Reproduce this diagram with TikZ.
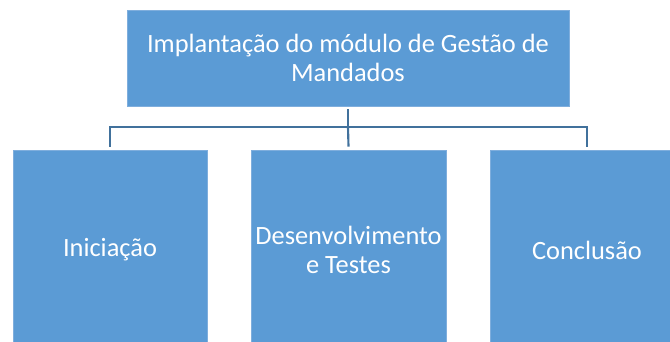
\documentclass[tikz,border=0pt]{standalone}
\usepackage{fontspec}
\setmainfont{Carlito}
\definecolor{boxfill}{HTML}{5B9BD5}
\definecolor{boxline}{HTML}{7FAEDD}
\definecolor{connline}{HTML}{41719C}
\begin{document}
\begin{tikzpicture}[x=0.75pt,y=-0.75pt,
  box/.style={draw=boxline,line width=0.6pt,fill=boxfill,text=white,align=center,
    inner sep=0pt,font=\fontsize{19.8}{22}\selectfont},
  conn/.style={draw=connline,line width=1.6pt}]
\useasboundingbox (0,0) rectangle (670,342);
\node[box,minimum width=442*0.75pt,minimum height=96*0.75pt] (top) at (348,58)
  {Implantação do módulo de Gestão de\\Mandados};
\node[box,minimum width=194*0.75pt,minimum height=200*0.75pt] (l) at (110,250) {Iniciação};
\node[box,minimum width=195*0.75pt,minimum height=200*0.75pt] (m) at (348.5,250) {Desenvolvimento\\e Testes};
\node[box,minimum width=194*0.75pt,minimum height=200*0.75pt] (r) at (587,250) {Conclusão};
\coordinate (j) at (348,127);
\draw[conn] ([yshift=-3*0.75pt]top.south) -- (j);
\draw[conn] (j) -| ([yshift=3*0.75pt]l.north);
\draw[conn] (j) -| ([yshift=3*0.75pt]r.north);
\draw[conn] (j) -- ([yshift=3*0.75pt]m.north);
\end{tikzpicture}
\end{document}
